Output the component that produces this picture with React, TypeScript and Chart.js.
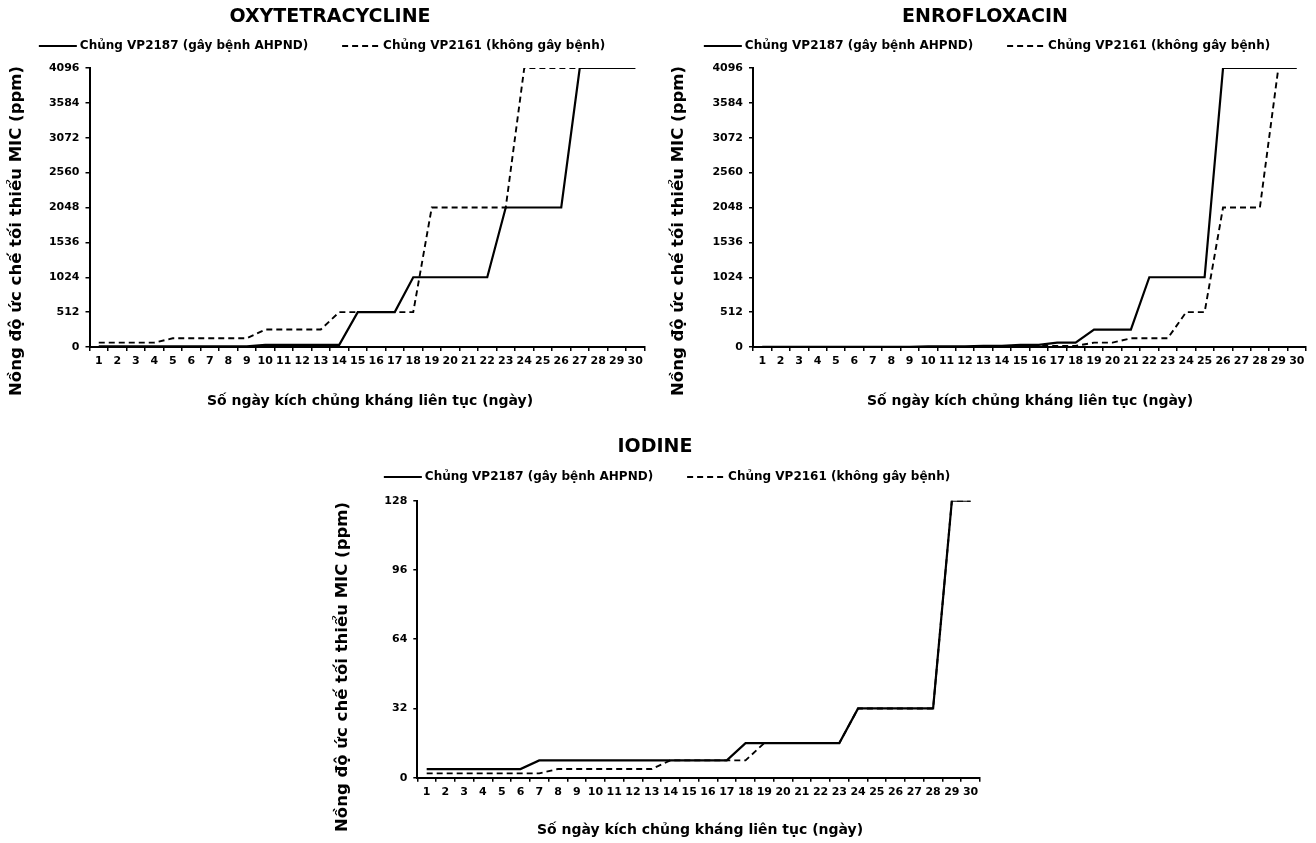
import React, { useEffect, useRef } from 'react';
import { Chart, registerables } from 'chart.js';

Chart.register(...registerables);

// ---- data ----
const DAYS = [
  '1', '2', '3', '4', '5', '6', '7', '8', '9', '10',
  '11', '12', '13', '14', '15', '16', '17', '18', '19', '20',
  '21', '22', '23', '24', '25', '26', '27', '28', '29', '30',
];

const STRAIN_AHPND = 'Chủng VP2187 (gây bệnh AHPND)';
const STRAIN_OTHER = 'Chủng VP2161 (không gây bệnh)';

const Y_TITLE = 'Nồng độ ức chế tối thiểu MIC (ppm)';
const X_TITLE = 'Số ngày kích chủng kháng liên tục (ngày)';

const OXY_VP2187 = [
  8, 8, 8, 8, 8, 8, 8, 8, 8, 32,
  32, 32, 32, 32, 512, 512, 512, 1024, 1024, 1024,
  1024, 1024, 2048, 2048, 2048, 2048, 4096, 4096, 4096, 4096,
];
const OXY_VP2161 = [
  64, 64, 64, 64, 128, 128, 128, 128, 128, 256,
  256, 256, 256, 512, 512, 512, 512, 512, 2048, 2048,
  2048, 2048, 2048, 4096, 4096, 4096, 4096, 4096, 4096, 4096,
];

const ENRO_VP2187 = [
  2, 2, 2, 2, 2, 2, 2, 2, 2, 8,
  8, 8, 16, 16, 32, 32, 64, 64, 256, 256,
  256, 1024, 1024, 1024, 1024, 4096, 4096, 4096, 4096, 4096,
];
const ENRO_VP2161 = [
  2, 2, 2, 2, 2, 2, 2, 2, 2, 2,
  2, 2, 2, 2, 2, 16, 16, 16, 64, 64,
  128, 128, 128, 512, 512, 2048, 2048, 2048, 4096, 4096,
];

const IOD_VP2187 = [
  4, 4, 4, 4, 4, 4, 8, 8, 8, 8,
  8, 8, 8, 8, 8, 8, 8, 16, 16, 16,
  16, 16, 16, 32, 32, 32, 32, 32, 128, 128,
];
const IOD_VP2161 = [
  2, 2, 2, 2, 2, 2, 2, 4, 4, 4,
  4, 4, 4, 8, 8, 8, 8, 8, 16, 16,
  16, 16, 16, 32, 32, 32, 32, 32, 128, 128,
];

const TICKS_4096 = [0, 512, 1024, 1536, 2048, 2560, 3072, 3584, 4096];
const TICKS_128 = [0, 32, 64, 96, 128];

// ---- styling ----
const FONT = '"DejaVu Sans", Verdana, sans-serif';
const INK = '#000000';

type PanelSpec = {
  name: string;
  a: number[];
  b: number[];
  ticks: number[];
  // canvas placement on the page
  x: number;
  y: number;
  w: number;
  h: number;
  // plot box inside the canvas
  plotLeft: number;
  plotRight: number;
  plotTop: number;
  plotBottom: number;
  text: {
    titleX: number;
    titleY: number;
    legendX: number;
    legendY: number;
    xTitleX: number;
    xTitleY: number;
    yTitleX: number;
    yTitleY: number;
  };
};

const PANELS: PanelSpec[] = [
  {
    name: 'OXYTETRACYCLINE',
    a: OXY_VP2187,
    b: OXY_VP2161,
    ticks: TICKS_4096,
    x: 0, y: 0, w: 658, h: 415,
    plotLeft: 89.5, plotRight: 644.5, plotTop: 68, plotBottom: 347,
    text: {
      titleX: 330, titleY: 17, legendX: 322, legendY: 46,
      xTitleX: 370, xTitleY: 401, yTitleX: 17, yTitleY: 231,
    },
  },
  {
    name: 'ENROFLOXACIN',
    a: ENRO_VP2187,
    b: ENRO_VP2161,
    ticks: TICKS_4096,
    x: 658, y: 0, w: 658, h: 415,
    plotLeft: 95, plotRight: 648, plotTop: 68, plotBottom: 347,
    text: {
      titleX: 327, titleY: 17, legendX: 329, legendY: 46,
      xTitleX: 372, xTitleY: 401, yTitleX: 21, yTitleY: 231,
    },
  },
  {
    name: 'IODINE',
    a: IOD_VP2187,
    b: IOD_VP2161,
    ticks: TICKS_128,
    x: 329, y: 430, w: 660, h: 413,
    plotLeft: 88.3, plotRight: 651, plotTop: 70.7, plotBottom: 347.7,
    text: {
      titleX: 326, titleY: 17, legendX: 338, legendY: 47,
      xTitleX: 371, xTitleY: 400, yTitleX: 14, yTitleY: 237,
    },
  },
];

// Draws the panel heading, the line-sample legend and both axis titles.
const panelText = {
  id: 'panelText',
  afterDraw(chart: any, _args: any, o: any) {
    const ctx: CanvasRenderingContext2D = chart.ctx;
    ctx.save();
    ctx.fillStyle = INK;
    ctx.strokeStyle = INK;
    ctx.textBaseline = 'middle';

    ctx.textAlign = 'center';
    ctx.font = `bold 19px ${FONT}`;
    ctx.fillText(o.title, o.titleX, o.titleY);

    ctx.font = `bold 12px ${FONT}`;
    const sampleLen = 38;
    const sampleGap = 3;
    const itemGap = 34;
    const items = chart.data.datasets.map((ds: any) => ({
      text: ds.label as string,
      dash: (ds.borderDash || []) as number[],
      width: ds.borderWidth as number,
    }));
    const widths = items.map((it: any) => sampleLen + sampleGap + ctx.measureText(it.text).width);
    const total = widths.reduce((s: number, v: number) => s + v, 0) + itemGap * (items.length - 1);
    let x = o.legendX - total / 2;
    items.forEach((it: any, i: number) => {
      ctx.beginPath();
      ctx.setLineDash(it.dash);
      ctx.lineWidth = it.width;
      ctx.moveTo(x, o.legendY);
      ctx.lineTo(x + sampleLen, o.legendY);
      ctx.stroke();
      ctx.setLineDash([]);
      ctx.textAlign = 'left';
      ctx.fillText(it.text, x + sampleLen + sampleGap, o.legendY);
      x += widths[i] + itemGap;
    });

    ctx.textAlign = 'center';
    ctx.font = `bold 14px ${FONT}`;
    ctx.fillText(X_TITLE, o.xTitleX, o.xTitleY);

    ctx.translate(o.yTitleX, o.yTitleY);
    ctx.rotate(-Math.PI / 2);
    ctx.font = `bold 16.5px ${FONT}`;
    ctx.fillText(Y_TITLE, 0, 0);
    ctx.restore();
  },
};

function Panel({ spec }: { spec: PanelSpec }) {
  const ref = useRef<HTMLCanvasElement | null>(null);

  useEffect(() => {
    const canvas = ref.current;
    if (!canvas) return;
    const yWidth = spec.plotLeft;
    const xHeight = spec.h - spec.plotBottom;
    const chart = new Chart(canvas, {
      type: 'line',
      data: {
        labels: DAYS,
        datasets: [
          {
            label: STRAIN_AHPND,
            data: spec.a,
            borderColor: INK,
            borderWidth: 2.2,
            pointRadius: 0,
            tension: 0,
            fill: false,
          },
          {
            label: STRAIN_OTHER,
            data: spec.b,
            borderColor: INK,
            borderWidth: 1.9,
            borderDash: [6, 4],
            pointRadius: 0,
            tension: 0,
            fill: false,
          },
        ],
      },
      options: {
        responsive: false,
        animation: false,
        events: [],
        layout: {
          padding: {
            top: spec.plotTop,
            left: 0,
            right: spec.w - spec.plotRight,
            bottom: 0,
          },
        },
        plugins: {
          legend: { display: false },
          title: { display: false },
          tooltip: { enabled: false },
          panelText: {
            title: spec.name,
            ...spec.text,
          },
        } as any,
        scales: {
          x: {
            type: 'category',
            offset: true,
            afterFit: (s: any) => {
              s.height = xHeight;
            },
            grid: {
              offset: true,
              drawOnChartArea: false,
              drawTicks: true,
              tickLength: 4,
              color: INK,
              lineWidth: 1.5,
            },
            border: { display: true, color: INK, width: 2 },
            ticks: {
              autoSkip: false,
              maxRotation: 0,
              minRotation: 0,
              padding: 4,
              color: INK,
              font: { family: FONT, size: 11, weight: 'bold' },
            },
          },
          y: {
            type: 'linear',
            min: spec.ticks[0],
            max: spec.ticks[spec.ticks.length - 1],
            afterFit: (s: any) => {
              s.width = yWidth;
            },
            afterBuildTicks: (s: any) => {
              s.ticks = spec.ticks.map((v) => ({ value: v }));
            },
            grid: {
              drawOnChartArea: false,
              drawTicks: true,
              tickLength: 4,
              color: INK,
              lineWidth: 1.5,
            },
            border: { display: true, color: INK, width: 2 },
            ticks: {
              padding: 6,
              color: INK,
              font: { family: FONT, size: 11, weight: 'bold' },
              callback: (v: any) => String(v),
            },
          },
        },
      } as any,
      plugins: [panelText as any],
    });
    return () => chart.destroy();
  }, [spec]);

  return (
    <canvas
      ref={ref}
      width={spec.w}
      height={spec.h}
      style={{ position: 'absolute', left: spec.x, top: spec.y, width: spec.w, height: spec.h }}
    />
  );
}

export default function App() {
  return (
    <div
      style={{
        position: 'absolute',
        left: 0,
        top: 0,
        width: 1316,
        height: 843,
        overflow: 'hidden',
        background: '#ffffff',
      }}
    >
      {PANELS.map((p) => (
        <Panel key={p.name} spec={p} />
      ))}
    </div>
  );
}
